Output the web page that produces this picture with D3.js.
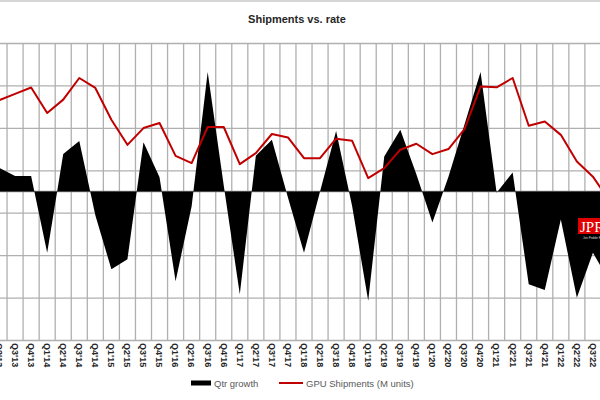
<!DOCTYPE html>
<html>
<head>
<meta charset="utf-8">
<script src="https://cdn.jsdelivr.net/npm/d3@7"></script>
<style>
  body { margin: 0; background: #fff; }
  svg { display: block; font-family: "Liberation Sans", Arial, sans-serif; }
</style>
</head>
<body>
<svg id="chart" width="600" height="400"></svg>
<script>
const quarters = ["Q2'13", "Q3'13", "Q4'13",
    "Q1'14", "Q2'14", "Q3'14", "Q4'14",
    "Q1'15", "Q2'15", "Q3'15", "Q4'15",
    "Q1'16", "Q2'16", "Q3'16", "Q4'16",
    "Q1'17", "Q2'17", "Q3'17", "Q4'17",
    "Q1'18", "Q2'18", "Q3'18", "Q4'18",
    "Q1'19", "Q2'19", "Q3'19", "Q4'19",
    "Q1'20", "Q2'20", "Q3'20", "Q4'20",
    "Q1'21", "Q2'21", "Q3'21", "Q4'21",
    "Q1'22", "Q2'22", "Q3'22", "Q4'22"];

// GPU shipments, M units (left axis, hidden by the crop)
const gpuShipments = [113, 116, 119,
    107, 113.3, 123.5, 118.8,
    103.8, 92, 99.9, 102.3,
    86.8, 83.4, 100.4, 100.4,
    82.9, 88.1, 97.1, 95.5,
    85.7, 85.7, 94.9, 93.9,
    76.3, 81, 89.7, 92.5,
    87.6, 90, 99.4, 119.5,
    119.1, 123.5, 101, 103,
    96.7, 84.1, 77, 66];

// quarter on quarter growth, % (right axis, hidden by the crop)
const qtrGrowth = [4.0, 2.6, 2.6,
    -10.3, 6.3, 8.5, -4,
    -13.1, -11.4, 8.3, 2.4,
    -15.1, -2.5, 20.1, 1,
    -17.3, 6.0, 8.7, -1,
    -10.3, 0, 10.2, -2.5,
    -18.4, 5.9, 10.4, 2.9,
    -5.2, 2.5, 11.3, 20.1,
    -0.2, 3.2, -15.6, -16.6,
    -4.7, -17.9, -10.3, -15];

const shipTicks = [0, 20, 40, 60, 80, 100, 120, 140];

const data = quarters.map((q, i) => ({ q: q, ship: gpuShipments[i], growth: qtrGrowth[i] }));

const svg = d3.select('#chart');
const plotTop = 43, plotBottom = 340;

svg.append('rect').attr('width', 600).attr('height', 400).attr('fill', '#fff');
svg.append('line')
    .attr('x1', 0).attr('x2', 600).attr('y1', 1).attr('y2', 1)
    .attr('stroke', '#c8c8c8').attr('stroke-width', 1.5);

svg.append('text')
    .attr('x', 297).attr('y', 23)
    .attr('text-anchor', 'middle')
    .attr('font-size', 11).attr('font-weight', 'bold')
    .attr('fill', '#262626')
    .text('Shipments vs. rate');

const x = d3.scaleBand().domain(quarters).range([-9, 617]);
const yShip = d3.scaleLinear().domain([0, 140]).range([plotBottom, plotTop]);
const yGrowth = d3.scaleLinear().domain([-25, 25]).range([plotBottom, plotTop]);

// horizontal grid
svg.append('g')
    .call(d3.axisLeft(yShip).tickValues(shipTicks).tickSize(-640).tickFormat(''))
    .call(g => g.select('.domain').remove())
    .selectAll('line')
    .attr('stroke', '#b0b0b0').attr('stroke-width', 1.3);

// vertical grid between categories
svg.append('g')
    .selectAll('line')
    .data(quarters)
    .join('line')
    .attr('x1', d => x(d)).attr('x2', d => x(d))
    .attr('y1', plotTop).attr('y2', plotBottom)
    .attr('stroke', '#b0b0b0').attr('stroke-width', 1.3);

// growth axis zero line
svg.append('line')
    .attr('x1', 0).attr('x2', 600)
    .attr('y1', yGrowth(0)).attr('y2', yGrowth(0))
    .attr('stroke', '#8c8c8c').attr('stroke-width', 1.5);

const cx = d => x(d.q) + x.bandwidth() / 2;

svg.append('path')
    .datum(data)
    .attr('fill', '#000')
    .attr('d', d3.area().x(cx).y0(yGrowth(0)).y1(d => yGrowth(d.growth)));

svg.append('path')
    .datum(data)
    .attr('fill', 'none')
    .attr('stroke', '#c00000')
    .attr('stroke-width', 2)
    .attr('stroke-linejoin', 'round')
    .attr('d', d3.line().x(cx).y(d => yShip(d.ship)));

// category labels, rotated
svg.append('g')
    .attr('transform', `translate(0,${plotBottom})`)
    .call(d3.axisBottom(x).tickSize(0))
    .call(g => g.select('.domain').remove())
    .selectAll('text')
    .attr('transform', 'rotate(90)')
    .attr('x', 3).attr('y', 0).attr('dy', '0.35em')
    .attr('text-anchor', 'start')
    .attr('font-size', 9).attr('font-weight', 'bold')
    .attr('font-family', '"Liberation Sans", Arial, sans-serif')
    .attr('fill', '#262626');

// watermark
const wm = svg.append('g');
wm.append('rect').attr('x', 578).attr('y', 218).attr('width', 30).attr('height', 16).attr('fill', '#e00000');
wm.append('text').attr('x', 580).attr('y', 232)
    .attr('font-family', '"Liberation Serif", serif').attr('font-size', 15)
    .attr('fill', '#fff').text('JPR');
wm.append('text').attr('x', 583).attr('y', 239)
    .attr('font-size', 3).attr('fill', '#ddd').text('Jon Peddie Research');

// legend
const lg = svg.append('g').attr('font-size', 9.5).attr('fill', '#595959');
lg.append('rect').attr('x', 191).attr('y', 380.5).attr('width', 20).attr('height', 5).attr('fill', '#000');
lg.append('text').attr('x', 214).attr('y', 386.5).text('Qtr growth');
lg.append('line').attr('x1', 279).attr('x2', 303).attr('y1', 383).attr('y2', 383)
    .attr('stroke', '#c00000').attr('stroke-width', 2);
lg.append('text').attr('x', 306).attr('y', 386.5).text('GPU Shipments (M units)');
</script>
</body>
</html>
